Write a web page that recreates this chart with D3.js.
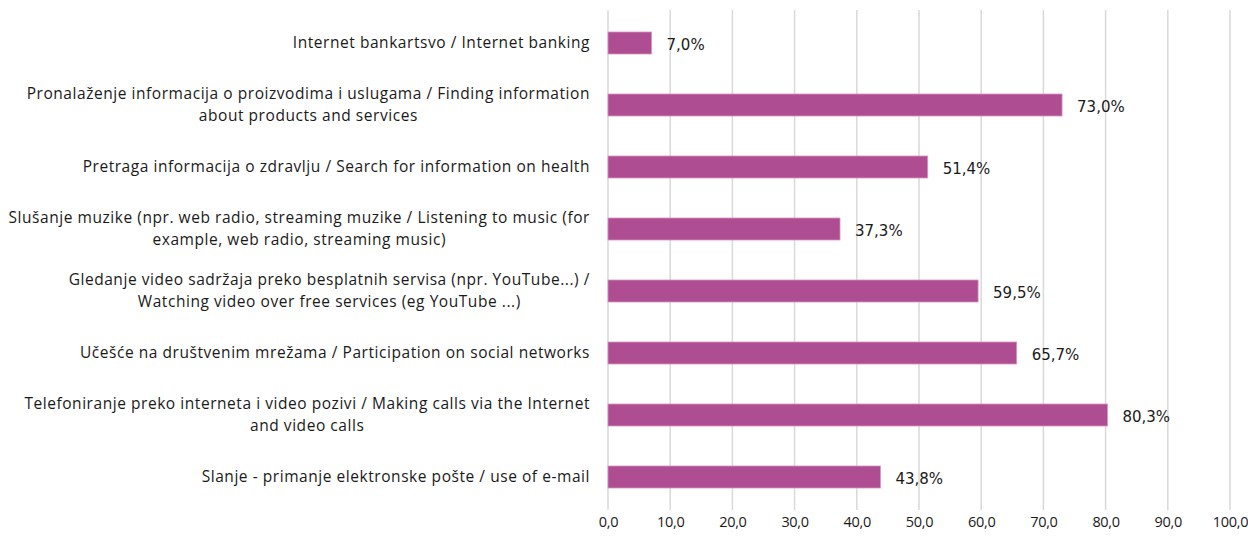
<!DOCTYPE html>
<html>
<head>
<meta charset="utf-8">
<script src="https://cdn.jsdelivr.net/npm/d3@7"></script>
<style>
  html, body { margin: 0; padding: 0; background: #fff; }
  svg { display: block; }
</style>
</head>
<body>
<svg id="chart" width="1248" height="539"></svg>
<script>
// Internet activities, share of users (%)
const categories = [
  ["Internet bankartsvo / Internet banking"],
  ["Pronalaženje informacija o proizvodima i uslugama / Finding information", "about products and services"],
  ["Pretraga informacija o zdravlju / Search for information on health"],
  ["Slušanje muzike (npr. web radio, streaming muzike / Listening to music (for", "example, web radio, streaming music)"],
  ["Gledanje video sadržaja preko besplatnih servisa (npr. YouTube...) /", "Watching video over free services (eg YouTube ...)"],
  ["Učešće na društvenim mrežama / Participation on social networks"],
  ["Telefoniranje preko interneta i video pozivi / Making calls via the Internet", "and video calls"],
  ["Slanje - primanje elektronske pošte / use of e-mail"]
];
const values = [7.0, 73.0, 51.4, 37.3, 59.5, 65.7, 80.3, 43.8];
const tickValues = [0, 10, 20, 30, 40, 50, 60, 70, 80, 90, 100];

const svg = d3.select("#chart");
const catFont = "'Open Sans', sans-serif";
const valFont = "'DejaVu Sans', sans-serif";

const x = d3.scaleLinear().domain([0, 100]).range([608, 1230]);
const y = d3.scaleBand()
  .domain(d3.range(categories.length))
  .range([12, 508])
  .paddingInner(0.645)
  .paddingOuter(0.3225);

const fmt = v => v.toFixed(1).replace(".", ",");

// vertical gridlines
svg.append("g")
  .selectAll("line")
  .data(tickValues)
  .join("line")
  .attr("x1", d => x(d)).attr("x2", d => x(d))
  .attr("y1", 10).attr("y2", 510)
  .attr("stroke", "#d9d9d9")
  .attr("stroke-width", 1.5);

// x axis tick labels
const xAxis = d3.axisBottom(x).tickValues(tickValues).tickFormat(fmt).tickSize(0).tickPadding(0);
const gx = svg.append("g").attr("transform", "translate(0,515)").call(xAxis);
gx.select(".domain").remove();
gx.selectAll("text")
  .attr("font-family", catFont)
  .attr("font-size", 14.5)
  .attr("letter-spacing", "-0.3px")
  .attr("fill", "#1a1a1a")
  .attr("dy", "0.85em");

// bars
svg.append("g")
  .selectAll("rect")
  .data(values)
  .join("rect")
  .attr("x", x(0))
  .attr("y", (d, i) => y(i))
  .attr("width", d => x(d) - x(0))
  .attr("height", y.bandwidth())
  .attr("fill", "#ae4d91")
  .attr("stroke", "#d795c3")
  .attr("stroke-width", 0.8);

// value labels
svg.append("g")
  .selectAll("text")
  .data(values)
  .join("text")
  .attr("x", d => x(d) + 15)
  .attr("y", (d, i) => y(i) + y.bandwidth() / 2 + 2)
  .attr("dy", "0.35em")
  .attr("font-family", valFont)
  .attr("font-size", 15)
  .attr("fill", "#1a1a1a")
  .text(d => fmt(d) + "%");

// category labels (multi-line blocks right-aligned, lines centred within block)
const labelRight = 590;
const lineH = 22;
const cg = svg.append("g");
categories.forEach((lines, i) => {
  const cy = y(i) + y.bandwidth() / 2;
  const g = cg.append("g");
  const texts = lines.map((ln, k) => g.append("text")
    .attr("font-family", catFont)
    .attr("font-size", 15.5)
    .attr("letter-spacing", "0.55px")
    .attr("fill", "#1a1a1a")
    .attr("dy", "0.35em")
    .attr("y", cy + (k - (lines.length - 1) / 2) * lineH)
    .text(ln));
  const widths = texts.map(t => t.node().getComputedTextLength());
  const maxW = d3.max(widths);
  texts.forEach(t => {
    t.attr("text-anchor", "middle").attr("x", labelRight - maxW / 2);
  });
});
</script>
</body>
</html>
